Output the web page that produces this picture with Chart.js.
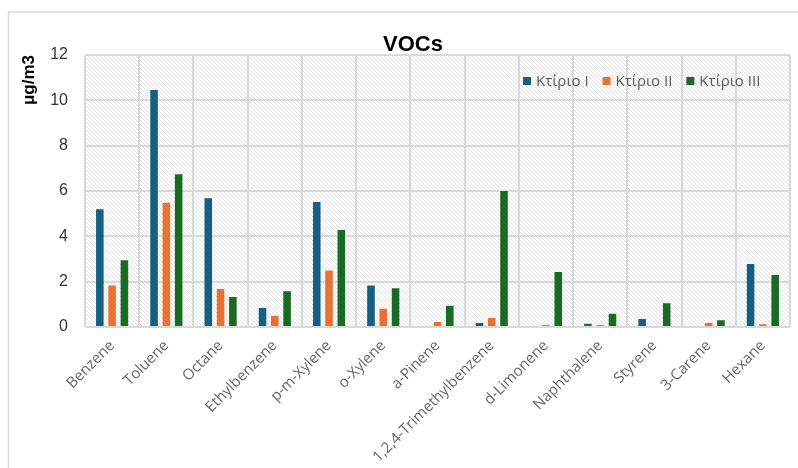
<!DOCTYPE html>
<html>
<head>
<meta charset="utf-8">
<script src="https://cdn.jsdelivr.net/npm/chart.js@4"></script>
<style>
  html, body { margin: 0; padding: 0; background: #fff; }
  #wrap { width: 798px; height: 468px; }
</style>
</head>
<body>
<div id="wrap"><canvas id="vocChart" width="798" height="468"></canvas></div>
<script>
// data (µg/m3)
const compounds = ['Benzene', 'Toluene', 'Octane', 'Ethylbenzene', 'p-m-Xylene', 'o-Xylene', 'a-Pinene',
  '1,2,4-Trimethylbenzene', 'd-Limonene', 'Naphthalene', 'Styrene', '3-Carene', 'Hexane'];
const buildingI   = [5.24, 10.5, 5.72, 0.88, 5.56, 1.88, null, 0.22, 0.06, 0.19, 0.40, null, 2.82];
const buildingII  = [1.88, 5.53, 1.72, 0.54, 2.54, 0.85, 0.26, 0.44, 0.13, 0.13, null, 0.22, 0.16];
const buildingIII = [2.99, 6.78, 1.37, 1.62, 4.32, 1.75, 0.98, 6.04, 2.47, 0.63, 1.09, 0.34, 2.34];
const seriesNames = ['Κτίριο I', 'Κτίριο II', 'Κτίριο III'];
const seriesColors = ['#156082', '#E97132', '#196B24'];
const yTicks = [0, 2, 4, 6, 8, 10, 12];

// hatched plot background (downward diagonal)
function makeHatch(ctx) {
  const c = document.createElement('canvas');
  c.width = 4; c.height = 4;
  const g = c.getContext('2d');
  g.fillStyle = '#ffffff';
  g.fillRect(0, 0, 4, 4);
  g.strokeStyle = '#e2e2e2';
  g.lineWidth = 1;
  g.beginPath();
  g.moveTo(-1, -1); g.lineTo(5, 5);
  g.moveTo(-1, 3); g.lineTo(1, 5);
  g.moveTo(3, -1); g.lineTo(5, 1);
  g.stroke();
  return ctx.createPattern(c, 'repeat');
}

const frameAndBack = {
  id: 'frameAndBack',
  beforeDraw(chart) {
    const { ctx, chartArea: a } = chart;
    ctx.save();
    ctx.fillStyle = '#ffffff';
    ctx.fillRect(0, 0, chart.width, chart.height);
    ctx.strokeStyle = '#d9d9d9';
    ctx.lineWidth = 1.5;
    ctx.strokeRect(8.5, 12, 900, 900);
    ctx.fillStyle = makeHatch(ctx);
    ctx.fillRect(a.left, a.top, a.right - a.left, a.bottom - a.top);
    ctx.restore();
  },
  afterDraw(chart) {
    const { ctx } = chart;
    ctx.save();
    // title
    ctx.fillStyle = '#000';
    ctx.font = 'bold 22px "Liberation Sans", Arial, sans-serif';
    ctx.textAlign = 'center';
    ctx.textBaseline = 'alphabetic';
    ctx.fillText('VOCs', 413, 51);
    // legend inside plot
    ctx.font = '15px "Open Sans", sans-serif';
    ctx.textAlign = 'left';
    ctx.textBaseline = 'middle';
    let x = 523;
    seriesNames.forEach((name, i) => {
      ctx.fillStyle = seriesColors[i];
      ctx.fillRect(x, 77, 8, 8);
      ctx.fillStyle = '#595959';
      ctx.fillText(name, x + 13, 81.5);
      x += 13 + ctx.measureText(name).width + 14;
    });
    ctx.restore();
  }
};

new Chart(document.getElementById('vocChart'), {
  type: 'bar',
  data: {
    labels: compounds,
    datasets: [buildingI, buildingII, buildingIII].map((vals, i) => ({
      label: seriesNames[i],
      data: vals,
      backgroundColor: seriesColors[i],
      borderColor: 'rgba(255,255,255,0.2)',
      borderWidth: 1,
      categoryPercentage: 0.68,
      barPercentage: 0.78
    }))
  },
  options: {
    responsive: false,
    animation: false,
    layout: { padding: { top: 55, left: 0, right: 8, bottom: 0 } },
    plugins: {
      legend: { display: false },
      title: { display: false },
      tooltip: { enabled: false }
    },
    scales: {
      x: {
        grid: { color: '#d9d9d9', lineWidth: 2, drawTicks: false, offset: true },
        border: { display: false },
        ticks: {
          autoSkip: false,
          minRotation: 45,
          maxRotation: 45,
          padding: 10,
          color: '#666666',
          font: { family: '"Open Sans", sans-serif', size: 15 }
        },
        afterFit(scale) { scale.height = 141; }
      },
      y: {
        min: 0,
        max: 12,
        afterBuildTicks(scale) { scale.ticks = yTicks.map(v => ({ value: v })); },
        grid: { color: '#d9d9d9', lineWidth: 2, drawTicks: false },
        border: { display: false },
        ticks: {
          padding: 17,
          color: '#333333',
          font: { family: '"Liberation Sans", Arial, sans-serif', size: 16 }
        },
        title: {
          display: true,
          text: 'μg/m3',
          align: 'end',
          color: '#000',
          padding: { top: 19, bottom: 0 },
          font: { family: '"Liberation Sans", Arial, sans-serif', size: 17, weight: 'bold' }
        },
        afterFit(scale) { scale.width = 85; }
      }
    }
  },
  plugins: [frameAndBack]
});
</script>
</body>
</html>
